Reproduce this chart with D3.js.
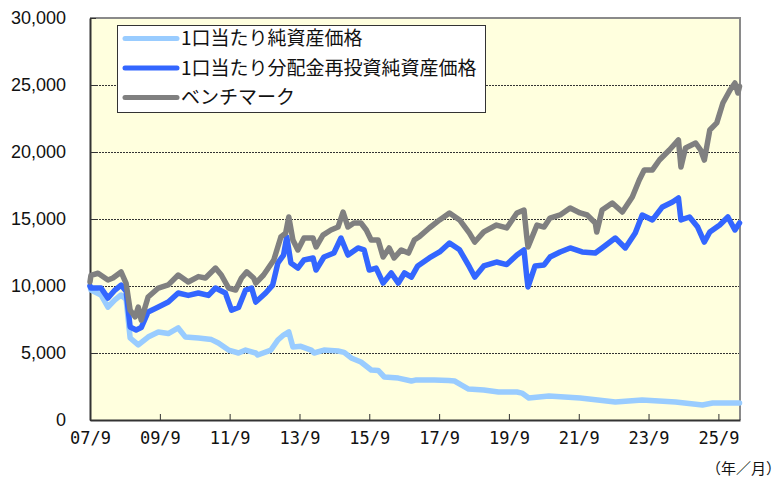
<!DOCTYPE html>
<html>
<head>
<meta charset="utf-8">
<script src="https://cdn.jsdelivr.net/npm/d3@7"></script>
<style>
  body { margin: 0; background: #fff; }
  .tick_label_y { font-family: "Liberation Sans", Arial, sans-serif; font-size: 18px; fill: #111; }
  .tick_label_x { font-family: "DejaVu Sans Mono", monospace; font-size: 17px; fill: #111; }
  .legend_label { font-family: "Noto Sans CJK JP", sans-serif; font-size: 19px; fill: #111; }
  .unit_label { font-family: "Noto Sans CJK JP", sans-serif; font-size: 15px; fill: #111; }
</style>
</head>
<body>
<script>
// values (date, value)
const navSeries = [
  ["2007-09-01", 10000], ["2007-09-11", 9700], ["2007-12-25", 9330], ["2008-03-07", 8430],
  ["2008-05-19", 8960], ["2008-07-22", 9330], ["2008-09-13", 9000], ["2008-10-25", 6120],
  ["2009-01-18", 5600], ["2009-05-01", 6190], ["2009-08-16", 6570], ["2009-11-28", 6450],
  ["2010-03-12", 6870], ["2010-05-25", 6200], ["2010-10-09", 6120], ["2011-02-24", 6000],
  ["2011-05-06", 5750], ["2011-08-21", 5220], ["2011-12-03", 5000], ["2012-02-15", 5220],
  ["2012-05-31", 5000], ["2012-06-21", 4850], ["2012-11-06", 5220], ["2013-01-18", 5970],
  ["2013-03-18", 6340], ["2013-05-12", 6570], ["2013-06-24", 5450], ["2013-09-15", 5500],
  ["2014-01-01", 5220], ["2014-02-01", 5000], ["2014-05-15", 5220], ["2014-10-09", 5150],
  ["2014-12-12", 5050], ["2015-02-24", 4630], ["2015-06-06", 4330], ["2015-09-21", 3730],
  ["2015-12-03", 3700], ["2016-02-06", 3210], ["2016-07-01", 3130], ["2016-11-15", 2910],
  ["2017-01-06", 2990], ["2017-07-12", 2990], ["2017-12-09", 2950], ["2018-02-09", 2910],
  ["2018-04-24", 2610], ["2018-07-06", 2310], ["2018-12-12", 2240], ["2019-05-15", 2090],
  ["2019-11-24", 2090], ["2020-01-15", 2010], ["2020-03-27", 1640], ["2020-10-24", 1790],
  ["2021-09-15", 1640], ["2022-09-18", 1340], ["2023-06-27", 1490], ["2024-06-09", 1340],
  ["2025-03-18", 1120], ["2025-07-03", 1270], ["2026-04-10", 1270]
];

const reinvestSeries = [
  ["2007-09-01", 10000], ["2007-09-11", 9850], ["2007-12-25", 9850], ["2008-03-07", 9100],
  ["2008-05-19", 9700], ["2008-07-22", 10070], ["2008-09-13", 9600], ["2008-10-25", 6940],
  ["2008-12-27", 6720], ["2009-02-18", 6900], ["2009-05-01", 8060], ["2009-08-16", 8430],
  ["2009-11-28", 8800], ["2010-03-12", 9480], ["2010-06-25", 9300], ["2010-10-09", 9480],
  ["2011-01-22", 9300], ["2011-04-06", 9850], ["2011-07-18", 9480], ["2011-09-21", 8200],
  ["2011-12-03", 8400], ["2012-02-15", 9700], ["2012-04-18", 9850], ["2012-05-31", 8800],
  ["2012-09-12", 9480], ["2012-11-24", 10070], ["2013-01-18", 11720], ["2013-03-18", 12310],
  ["2013-04-21", 13660], ["2013-06-03", 11720], ["2013-08-15", 11340], ["2013-10-18", 11940],
  ["2014-01-21", 12090], ["2014-02-21", 11190], ["2014-05-15", 12160], ["2014-08-27", 12460],
  ["2014-11-09", 13580], ["2015-01-21", 12310], ["2015-05-06", 12840], ["2015-07-09", 12700],
  ["2015-09-01", 11190], ["2015-11-12", 11340], ["2016-01-24", 10220], ["2016-04-18", 10970],
  ["2016-07-01", 10220], ["2016-09-03", 10970], ["2016-11-15", 10670], ["2017-01-20", 11500],
  ["2017-05-21", 12090], ["2017-09-06", 12540], ["2017-12-18", 13210], ["2018-04-03", 12700],
  ["2018-07-15", 11420], ["2018-09-09", 10670], ["2018-12-12", 11500], ["2019-04-24", 11790],
  ["2019-08-09", 11600], ["2019-11-24", 12310], ["2020-02-06", 12690], ["2020-03-06", 10670],
  ["2020-03-19", 9930], ["2020-06-01", 11500], ["2020-09-03", 11570], ["2020-11-04", 12160],
  ["2021-02-18", 12540], ["2021-06-03", 12840], ["2021-10-06", 12540], ["2022-02-21", 12460],
  ["2022-05-03", 12840], ["2022-09-18", 13580], ["2023-01-01", 12840], ["2023-04-15", 13950],
  ["2023-06-27", 15300], ["2023-10-12", 14930], ["2024-01-24", 15900], ["2024-05-09", 16270],
  ["2024-07-10", 16570], ["2024-08-05", 14930], ["2024-11-03", 15150], ["2025-01-27", 14400],
  ["2025-04-07", 13280], ["2025-06-03", 14030], ["2025-09-15", 14550], ["2025-12-09", 15150],
  ["2026-02-21", 14180], ["2026-04-10", 14700]
];

const benchmarkSeries = [
  ["2007-09-01", 10300], ["2007-09-11", 10800], ["2007-11-24", 10950], ["2008-03-07", 10450],
  ["2008-04-28", 10600], ["2008-07-22", 11050], ["2008-09-13", 10200], ["2008-10-25", 8200],
  ["2008-12-16", 7700], ["2009-01-18", 8430], ["2009-02-18", 7460], ["2009-05-01", 9180],
  ["2009-08-16", 9850], ["2009-11-28", 10080], ["2010-03-12", 10820], ["2010-06-25", 10300],
  ["2010-10-09", 10700], ["2010-12-22", 10600], ["2011-04-06", 11340], ["2011-06-06", 10820],
  ["2011-08-21", 9850], ["2011-11-03", 9700], ["2012-01-03", 10600], ["2012-02-27", 11050],
  ["2012-05-09", 10600], ["2012-06-01", 10220], ["2012-08-21", 10820], ["2012-12-06", 11940],
  ["2013-02-18", 13660], ["2013-04-09", 13950], ["2013-05-12", 15150], ["2013-06-24", 13430],
  ["2013-08-15", 12690], ["2013-10-18", 13580], ["2014-01-21", 13580], ["2014-02-21", 12910],
  ["2014-05-04", 13800], ["2014-07-27", 14180], ["2014-10-09", 14400], ["2014-12-01", 15520],
  ["2015-01-21", 14400], ["2015-03-24", 14700], ["2015-06-06", 14700], ["2015-08-01", 14180],
  ["2015-09-21", 13430], ["2015-12-03", 13430], ["2016-01-24", 12160], ["2016-03-27", 12840],
  ["2016-05-18", 12090], ["2016-08-01", 12690], ["2016-10-15", 12460], ["2016-12-15", 13430],
  ["2017-02-09", 13700], ["2017-05-21", 14330], ["2017-09-06", 14930], ["2017-12-18", 15450],
  ["2018-04-03", 14930], ["2018-07-15", 13950], ["2018-09-09", 13280], ["2018-12-12", 14040],
  ["2019-04-24", 14550], ["2019-08-09", 14330], ["2019-11-24", 15450], ["2020-02-06", 15670],
  ["2020-03-06", 13660], ["2020-03-19", 12910], ["2020-06-21", 14550], ["2020-09-03", 14400],
  ["2020-11-04", 15070], ["2021-02-18", 15300], ["2021-06-03", 15820], ["2021-09-15", 15450],
  ["2021-11-28", 15300], ["2022-02-21", 14700], ["2022-03-08", 14030], ["2022-05-03", 15670],
  ["2022-08-18", 16190], ["2022-12-01", 15520], ["2023-03-15", 16640], ["2023-05-27", 17910],
  ["2023-07-18", 18660], ["2023-10-12", 18660], ["2023-12-24", 19400], ["2024-04-06", 20150],
  ["2024-07-10", 20900], ["2024-08-05", 18880], ["2024-09-22", 20300], ["2025-01-06", 20670],
  ["2025-02-27", 20150], ["2025-04-07", 19400], ["2025-06-03", 21640], ["2025-08-15", 22170],
  ["2025-10-18", 23660], ["2026-01-01", 24630], ["2026-02-21", 25150], ["2026-03-24", 24400],
  ["2026-04-10", 24900]
];

const legendLabels = ["1口当たり純資産価格", "1口当たり分配金再投資純資産価格", "ベンチマーク"];
const yTickValues = [0, 5000, 10000, 15000, 20000, 25000, 30000];
const xTickYears = [2007, 2009, 2011, 2013, 2015, 2017, 2019, 2021, 2023, 2025];

const seriesColors = ["#99CCFF", "#3366FF", "#808080"];

const parseDate = d3.timeParse("%Y-%m-%d");

function drawChart() {
  const width = 781;
  const height = 477;
  const margin = { left: 90, right: 41, top: 18, bottom: 57 };

  const svg = d3.select("body").append("svg")
    .attr("width", width)
    .attr("height", height);

  const x = d3.scaleTime()
    .domain([parseDate("2007-09-01"), parseDate("2026-04-15")])
    .range([margin.left, width - margin.right]);

  const y = d3.scaleLinear()
    .domain([0, 30000])
    .range([height - margin.bottom, margin.top]);

  // plot background
  svg.append("rect")
    .attr("x", margin.left)
    .attr("y", margin.top)
    .attr("width", width - margin.left - margin.right)
    .attr("height", height - margin.top - margin.bottom)
    .attr("fill", "#FFFFDE");

  // dotted gridlines
  svg.append("g")
    .selectAll("line")
    .data(yTickValues.filter(v => v > 0 && v < 30000))
    .enter()
    .append("line")
    .attr("x1", margin.left)
    .attr("x2", width - margin.right)
    .attr("y1", d => y(d) + 0.5)
    .attr("y2", d => y(d) + 0.5)
    .attr("stroke", "#333")
    .attr("stroke-width", 1)
    .attr("stroke-dasharray", "2,1");

  // top/right border grey
  svg.append("path")
    .attr("d", `M${margin.left},${margin.top}H${width - margin.right}V${height - margin.bottom}`)
    .attr("fill", "none")
    .attr("stroke", "#8a8a8a")
    .attr("stroke-width", 2);

  // y axis
  const yAxis = d3.axisLeft(y)
    .tickValues(yTickValues)
    .tickFormat(d3.format(","))
    .tickSizeInner(-6)
    .tickSizeOuter(0)
    .tickPadding(24);

  const yAxisG = svg.append("g")
    .attr("transform", `translate(${margin.left},0)`)
    .call(yAxis);
  yAxisG.select(".domain").attr("stroke", "#333").attr("stroke-width", 2);
  yAxisG.selectAll(".tick line").attr("stroke", "#333");
  yAxisG.selectAll(".tick text").attr("class", "tick_label_y");
  yAxisG.attr("font-family", null).attr("font-size", null);

  // x axis
  const xAxis = d3.axisBottom(x)
    .tickValues(xTickYears.map(yr => new Date(yr, 8, 1)))
    .tickFormat(d3.timeFormat("%y/%-m"))
    .tickSizeInner(-6)
    .tickSizeOuter(0)
    .tickPadding(12);

  const xAxisG = svg.append("g")
    .attr("transform", `translate(0,${height - margin.bottom})`)
    .call(xAxis);
  xAxisG.select(".domain").attr("stroke", "#333").attr("stroke-width", 2);
  xAxisG.selectAll(".tick line").attr("stroke", "#333");
  xAxisG.selectAll(".tick text").attr("class", "tick_label_x");
  xAxisG.attr("font-family", null).attr("font-size", null);

  svg.append("text")
    .attr("class", "unit_label")
    .attr("x", 781)
    .attr("y", 474)
    .attr("text-anchor", "end")
    .text("（年／月）");

  // lines
  const line = d3.line()
    .x(d => x(parseDate(d[0])))
    .y(d => y(d[1]));

  const allSeries = [navSeries, reinvestSeries, benchmarkSeries];

  svg.append("g")
    .selectAll("path")
    .data(allSeries)
    .enter()
    .append("path")
    .attr("d", line)
    .attr("fill", "none")
    .attr("stroke", (d, i) => seriesColors[i])
    .attr("stroke-width", 5.5)
    .attr("stroke-linejoin", "round")
    .attr("stroke-linecap", "round");

  // legend
  const legend = svg.append("g").attr("transform", "translate(117,25)");
  legend.append("rect")
    .attr("x", 0.5)
    .attr("y", 0.5)
    .attr("width", 368)
    .attr("height", 87)
    .attr("fill", "#fff")
    .attr("stroke", "#333")
    .attr("stroke-width", 1);

  const rows = legend.selectAll("g.legend_row")
    .data(legendLabels)
    .enter()
    .append("g")
    .attr("class", "legend_row")
    .attr("transform", (d, i) => `translate(0,${13.5 + i * 29.5})`);

  rows.append("line")
    .attr("x1", 8)
    .attr("x2", 60)
    .attr("stroke", (d, i) => seriesColors[i])
    .attr("stroke-width", 5)
    .attr("stroke-linecap", "round");

  rows.append("text")
    .attr("class", "legend_label")
    .attr("x", 64)
    .attr("dy", "0.36em")
    .text(d => d);
}

drawChart();
</script>
</body>
</html>
